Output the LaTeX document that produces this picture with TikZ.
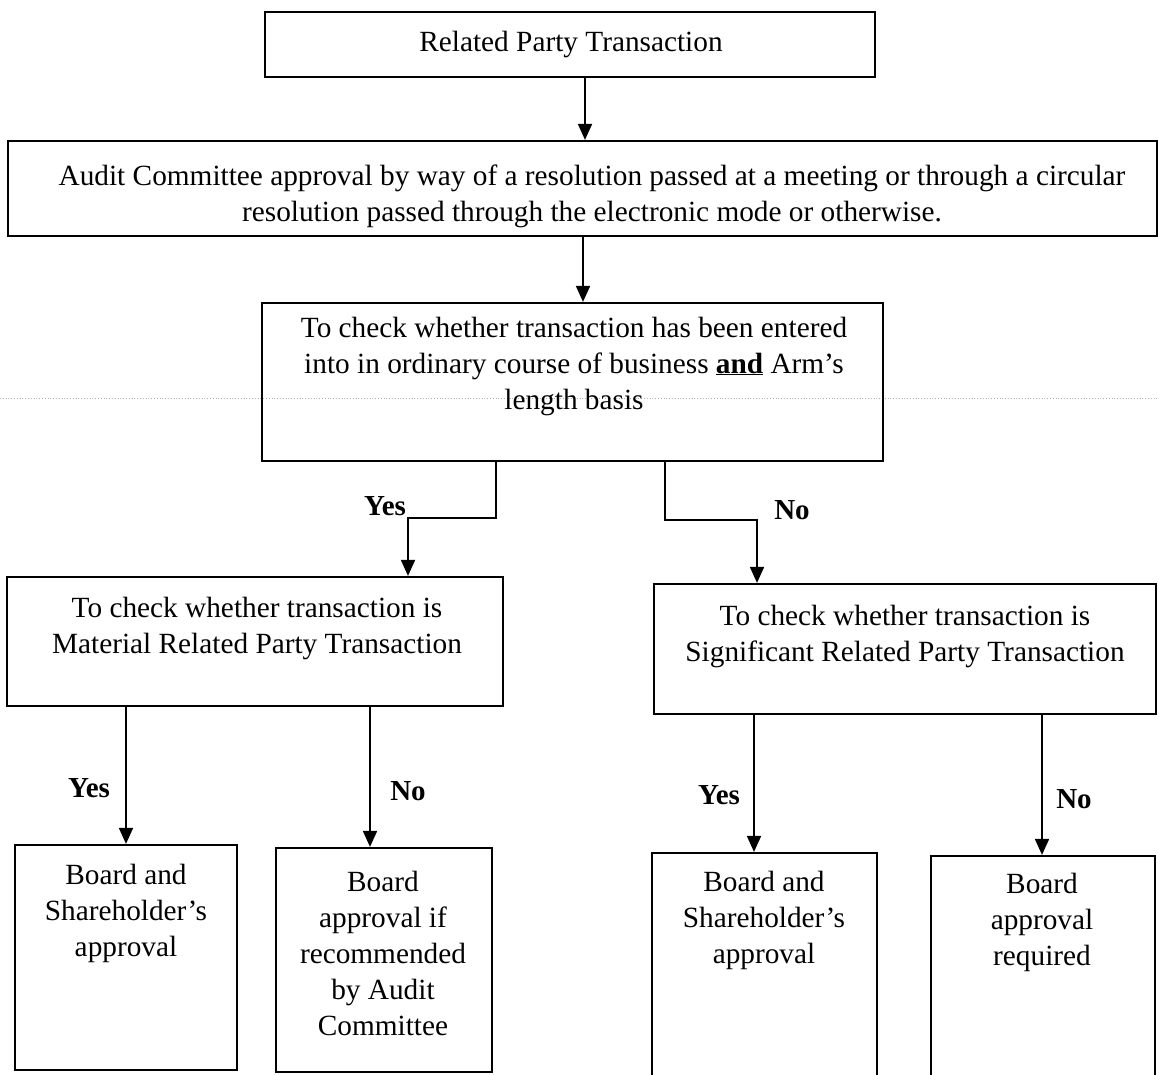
\documentclass[tikz,border=0pt]{standalone}
\usepackage{fontspec}
\setmainfont{Liberation Serif}
\usetikzlibrary{arrows.meta}
\begin{document}
\begin{tikzpicture}[x=1pt,y=-1pt,
  box/.style={draw=black, line width=2.2pt, inner sep=0pt},
  txt/.style={align=center, inner sep=0pt, font=\fontsize{29.3}{36}\selectfont},
  lbl/.style={inner sep=0pt, font=\fontsize{29}{32}\selectfont\bfseries},
  conn/.style={line width=1.8pt, -{Triangle[length=16pt,width=14pt]}},
  scanline/.style={gray!60, line width=0.8pt, dotted}]
\useasboundingbox (0,0) rectangle (1159,1075);
\begin{scope}
\clip (0,0) rectangle (1159,1075);
% faint scan line
\draw[scanline] (0,398) -- (1159,398);
% boxes
\node[box, minimum width=610pt, minimum height=65pt] (b1) at (570,44.5) {};
\node[box, minimum width=1149pt, minimum height=95pt] (b2) at (582.5,188.5) {};
\node[box, minimum width=621pt, minimum height=158pt] (b3) at (572.5,382) {};
\node[box, minimum width=496pt, minimum height=129pt] (b4) at (255,641.5) {};
\node[box, minimum width=502pt, minimum height=130pt] (b5) at (905,649) {};
\node[box, minimum width=222pt, minimum height=225pt] (b6) at (126,957.5) {};
\node[box, minimum width=216pt, minimum height=224pt] (b7) at (384,960) {};
\node[box, minimum width=225pt, minimum height=232pt] (b8) at (764.5,969) {};
\node[box, minimum width=224pt, minimum height=229pt] (b9) at (1043,970.5) {};
\end{scope}
% texts
\node[txt] (t1) at (571,45) {Related Party Transaction};
\node[txt] (t2) at (592,196) {Audit Committee approval by way of a resolution passed at a meeting or through a circular\\resolution passed through the electronic mode or otherwise.};
\node[txt] (t3) at (574,366) {To check whether transaction has been entered\\into in ordinary course of business \textbf{\underline{and}} Arm’s\\length basis};
\node[txt] (t4) at (257,628) {To check whether transaction is\\Material Related Party Transaction};
\node[txt] (t5) at (905,636) {To check whether transaction is\\Significant Related Party Transaction};
\node[txt] (t6) at (126,913) {Board and\\Shareholder’s\\approval};
\node[txt] (t7) at (383,953) {Board\\approval if\\recommended\\by Audit\\Committee};
\node[txt] (t8) at (764,920) {Board and\\Shareholder’s\\approval};
\node[txt] (t9) at (1042,922) {Board\\approval\\required};
% connectors
\coordinate (c1) at (585,77);
\draw[conn] (c1) -- (c1 |- b2.north);
\coordinate (c2) at (583,236);
\draw[conn] (c2) -- (c2 |- b3.north);
\coordinate (y1) at (496,461);
\coordinate (y2) at (408,518);
\draw[conn] (y1) |- (y2) -- (y2 |- b4.north);
\coordinate (n1) at (665,461);
\coordinate (n2) at (757,520);
\draw[conn] (n1) |- (n2) -- (n2 |- b5.north);
\coordinate (a1) at (126,706);
\draw[conn] (a1) -- (a1 |- b6.north);
\coordinate (a2) at (370,706);
\draw[conn] (a2) -- (a2 |- b7.north);
\coordinate (a3) at (754,714);
\draw[conn] (a3) -- (a3 |- b8.north);
\coordinate (a4) at (1042,714);
\draw[conn] (a4) -- (a4 |- b9.north);
% labels
\node[lbl] (l1) at (385,506) {Yes};
\node[lbl] (l2) at (792,510) {No};
\node[lbl] (l3) at (89,788) {Yes};
\node[lbl] (l4) at (408,791) {No};
\node[lbl] (l5) at (719,795) {Yes};
\node[lbl] (l6) at (1074,799) {No};
\end{tikzpicture}
\end{document}
